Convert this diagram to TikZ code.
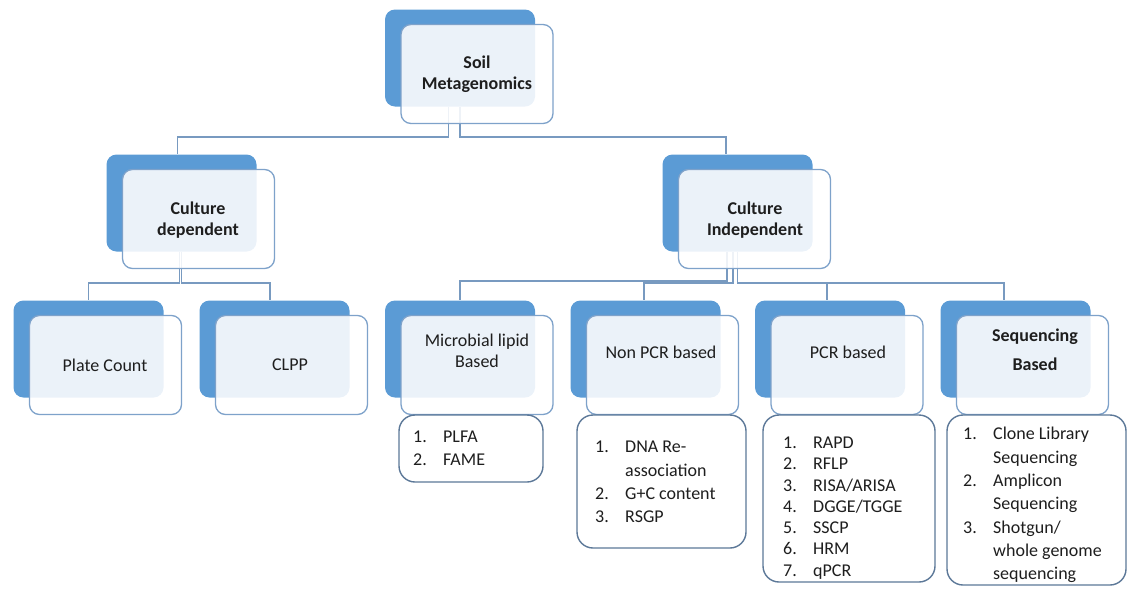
\documentclass[tikz,border=0pt]{standalone}
\usepackage{fontspec}
\setmainfont{Carlito}
\usetikzlibrary{backgrounds}

\definecolor{boxblue}{RGB}{91,155,213}
\definecolor{edgeblue}{RGB}{126,162,202}
\definecolor{linkblue}{RGB}{120,154,192}
\definecolor{listedge}{RGB}{92,120,152}
\definecolor{txtgray}{RGB}{30,30,30}

\tikzset{
  backbox/.style={fill=boxblue, rounded corners=10pt, minimum width=150pt, minimum height=97pt, inner sep=0pt},
  frontbox/.style={fill=white, fill opacity=0.88, draw=edgeblue, line width=1.3pt, rounded corners=10pt, minimum width=152pt, minimum height=99pt, inner sep=0pt},
  head/.style={font=\fontsize{18}{21}\selectfont\bfseries, text=txtgray, align=center},
  plain/.style={font=\fontsize{18}{21}\selectfont, text=txtgray, align=center},
  listbox/.style={draw=listedge, line width=1.4pt, fill=white, rounded corners=16pt, inner sep=0pt},
  listtext/.style={font=\fontsize{18}{23.3}\selectfont, text=txtgray, align=left, anchor=west, inner sep=0pt},
  link/.style={draw=linkblue, line width=1.8pt},
  elbow/.style={to path={-- ++(0,#1) -| (\tikztotarget)}},
}
\newcommand{\numitem}[1]{\makebox[30pt][l]{#1}}

\begin{document}
\begin{tikzpicture}[x=1pt,y=-1pt]
\useasboundingbox (0,0) rectangle (1128,590);

% blue back box + light front box
\foreach \n/\x/\y in {soil/477/74, cdep/198.5/219, cind/754.5/219,
    plate/105.5/365, clpp/291.5/365, micro/477/365, nonpcr/662.5/365,
    pcr/847/365, seq/1032.5/365}{
  \node[backbox] (\n-b) at (\x-17,\y-16) {};
  \node[frontbox] (\n) at (\x,\y) {};
}

\begin{pgfonlayer}{background}
\draw[link] ([xshift=-11.5pt]soil-b.south) to[elbow=30] ([xshift=-4pt]cdep-b.north);
\draw[link] (soil-b.south) to[elbow=30] ([xshift=-11.5pt]cind-b.north);
\draw[link] ([xshift=-2pt]cdep-b.south) to[elbow=31] (plate-b.north);
\draw[link] (cdep-b.south) to[elbow=31] ([xshift=-4.5pt]clpp-b.north);
\draw[link] ([xshift=-10.5pt]cind-b.south) to[elbow=29] (micro-b.north);
\draw[link] ([xshift=-4.5pt]cind-b.south) to[elbow=31] ([xshift=-1.5pt]nonpcr-b.north);
\draw[link] (cind-b.south) to[elbow=31] ([xshift=-3pt]pcr-b.north);
\draw[link] (cind-b.south) to[elbow=31] ([xshift=-11.5pt]seq-b.north);
\end{pgfonlayer}

\node[head] (soil-t) at (477,74) {Soil\\Metagenomics};
\node[head] (cdep-t) at (198,220) {Culture\\dependent};
\node[head] (cind-t) at (755,220) {Culture\\Independent};
\node[plain] (plate-t) at (105,365) {Plate Count};
\node[plain] (clpp-t) at (290,365) {CLPP};
\node[plain] (micro-t) at (477,351) {Microbial lipid\\Based};
\node[plain] (nonpcr-t) at (661,352) {Non PCR based};
\node[plain] (pcr-t) at (848,352) {PCR based};
\node[head] (seq-t) at (1035,350) {Sequencing\\[8pt]Based};

% method lists
\node[listbox, minimum width=144pt, minimum height=67pt] (micro-l) at (471,448.5) {};
\node[listbox, minimum width=169pt, minimum height=133pt] (nonpcr-l) at (661.5,481.5) {};
\node[listbox, minimum width=172pt, minimum height=167pt] (pcr-l) at (849,498.5) {};
\node[listbox, minimum width=179pt, minimum height=170pt] (seq-l) at (1036.5,500) {};

\node[listtext] (micro-lt) at (413,448.5) {\numitem{1.}PLFA\\\numitem{2.}FAME};
\node[listtext] (nonpcr-lt) at (595,482) {\numitem{1.}DNA Re-\\\numitem{}association\\\numitem{2.}G+C content\\\numitem{3.}RSGP};
\node[listtext, font=\fontsize{18}{21.3}\selectfont] (pcr-lt) at (783,508) {\numitem{1.}RAPD\\\numitem{2.}RFLP\\\numitem{3.}RISA/ARISA\\\numitem{4.}DGGE/TGGE\\\numitem{5.}SSCP\\\numitem{6.}HRM\\\numitem{7.}qPCR};
\node[listtext] (seq-lt) at (963,505) {\numitem{1.}Clone Library\\\numitem{}Sequencing\\\numitem{2.}Amplicon\\\numitem{}Sequencing\\\numitem{3.}Shotgun/\\\numitem{}whole genome\\\numitem{}sequencing};
\end{tikzpicture}
\end{document}
